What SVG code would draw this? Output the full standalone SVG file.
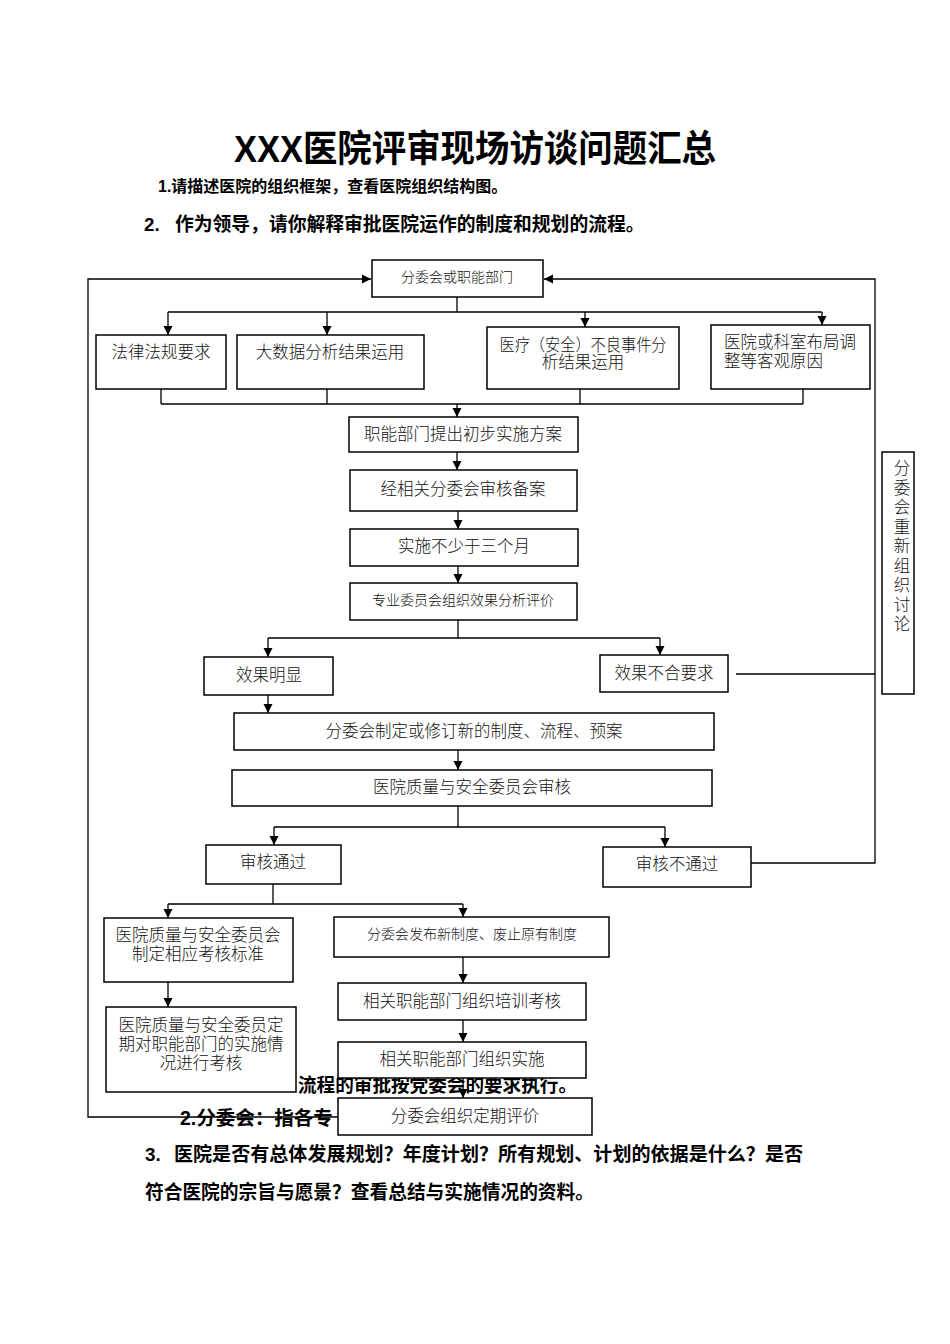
<svg xmlns="http://www.w3.org/2000/svg" width="950" height="1344" viewBox="0 0 950 1344">
<style>
.doc{font-family:"Liberation Sans","Noto Sans CJK SC",sans-serif;font-weight:bold;fill:#000}
.box{fill:#fff;stroke:#000;stroke-width:1.5}
.t{font-family:"Liberation Serif","Noto Sans CJK SC",serif;font-weight:300;font-size:16.5px;fill:#111;text-anchor:middle}
.s{font-size:14px}
.l{text-anchor:start}
.c{fill:none;stroke:#000;stroke-width:1.3}
</style>
<defs>
<marker id="ah" viewBox="0 0 10 10" refX="10" refY="5" markerWidth="9" markerHeight="11" markerUnits="userSpaceOnUse" orient="auto">
<path d="M0,0 L10,5 L0,10 z" fill="#000"/>
</marker>
</defs>
<rect width="950" height="1344" fill="#fff"/>

<g id="doc-text">
<text class="doc" x="475" y="162" font-size="37" text-anchor="middle" textLength="482" lengthAdjust="spacingAndGlyphs">XXX医院评审现场访谈问题汇总</text>
<text class="doc" x="158" y="192" font-size="16">1.请描述医院的组织框架，查看医院组织结构图。</text>
<text class="doc" x="144" y="231" font-size="18.8">2.</text>
<text class="doc" x="175" y="231" font-size="18.8">作为领导，请你解释审批医院运作的制度和规划的流程。</text>
<text class="doc" x="298" y="1092" font-size="19" textLength="279" lengthAdjust="spacingAndGlyphs">流程的审批按党委会的要求执行。</text>
<text class="doc" x="180" y="1125" font-size="19.5">2.分委会：指各专</text>
<text class="doc" x="145" y="1161" font-size="18.8">3.</text>
<text class="doc" x="174" y="1161" font-size="18.8" textLength="629" lengthAdjust="spacingAndGlyphs">医院是否有总体发展规划？年度计划？所有规划、计划的依据是什么？是否</text>
<text class="doc" x="145" y="1199" font-size="18.8" textLength="449" lengthAdjust="spacingAndGlyphs">符合医院的宗旨与愿景？查看总结与实施情况的资料。</text>
</g>

<g id="n-top"><rect class="box" x="372" y="260" width="171" height="37"/><text class="t s" x="457" y="282">分委会或职能部门</text></g>
<g id="n-law"><rect class="box" x="96" y="335" width="130" height="54"/><text class="t" x="161" y="358">法律法规要求</text></g>
<g id="n-data"><rect class="box" x="237" y="335" width="187" height="54"/><text class="t" x="330" y="358">大数据分析结果运用</text></g>
<g id="n-event"><rect class="box" x="487" y="327" width="192" height="62"/><text class="t" x="583" y="351" textLength="167" lengthAdjust="spacingAndGlyphs">医疗（安全）不良事件分</text><text class="t" x="583" y="368">析结果运用</text></g>
<g id="n-layout"><rect class="box" x="711" y="325" width="159" height="64"/><text class="t l" x="724" y="348">医院或科室布局调</text><text class="t l" x="724" y="367">整等客观原因</text></g>
<g id="n-plan"><rect class="box" x="349" y="417" width="229" height="35"/><text class="t" x="463" y="440">职能部门提出初步实施方案</text></g>
<g id="n-review"><rect class="box" x="350" y="470" width="227" height="41"/><text class="t" x="463" y="495">经相关分委会审核备案</text></g>
<g id="n-impl"><rect class="box" x="350" y="529" width="228" height="37"/><text class="t" x="464" y="552">实施不少于三个月</text></g>
<g id="n-eval"><rect class="box" x="350" y="583" width="227" height="37"/><text class="t s" x="463" y="605">专业委员会组织效果分析评价</text></g>
<g id="n-good"><rect class="box" x="204" y="657" width="129" height="38"/><text class="t" x="269" y="681">效果明显</text></g>
<g id="n-bad"><rect class="box" x="600" y="655" width="128" height="37"/><text class="t" x="664" y="679">效果不合要求</text></g>
<g id="n-rediscuss"><rect class="box" x="882" y="452" width="32" height="242"/>
<text class="t" x="902" y="474">分</text><text class="t" x="902" y="493.5">委</text><text class="t" x="902" y="513">会</text><text class="t" x="902" y="532.5">重</text><text class="t" x="902" y="552">新</text><text class="t" x="902" y="571.5">组</text><text class="t" x="902" y="591">织</text><text class="t" x="902" y="610.5">讨</text><text class="t" x="902" y="630">论</text></g>
<g id="n-draft"><rect class="box" x="234" y="713" width="480" height="37"/><text class="t" x="474" y="737">分委会制定或修订新的制度、流程、预案</text></g>
<g id="n-qa"><rect class="box" x="232" y="770" width="480" height="36"/><text class="t" x="472" y="793">医院质量与安全委员会审核</text></g>
<g id="n-pass"><rect class="box" x="206" y="845" width="135" height="39"/><text class="t" x="273" y="868">审核通过</text></g>
<g id="n-fail"><rect class="box" x="603" y="847" width="148" height="40"/><text class="t" x="677" y="870">审核不通过</text></g>
<g id="n-standard"><rect class="box" x="104" y="918" width="189" height="64"/><text class="t" x="198" y="941">医院质量与安全委员会</text><text class="t" x="198" y="960">制定相应考核标准</text></g>
<g id="n-publish"><rect class="box" x="334" y="917" width="275" height="40"/><text class="t s" x="472" y="939">分委会发布新制度、废止原有制度</text></g>
<g id="n-audit"><rect class="box" x="106" y="1007" width="190" height="85"/><text class="t" x="201" y="1031">医院质量与安全委员定</text><text class="t" x="201" y="1050">期对职能部门的实施情</text><text class="t" x="201" y="1069">况进行考核</text></g>
<g id="n-train"><rect class="box" x="338" y="983" width="248" height="37"/><text class="t" x="462" y="1007">相关职能部门组织培训考核</text></g>
<g id="n-do"><rect class="box" x="338" y="1042" width="248" height="36"/><text class="t" x="462" y="1065">相关职能部门组织实施</text></g>
<g id="n-periodic"><rect class="box" x="338" y="1098" width="254" height="37"/><text class="t" x="465" y="1122">分委会组织定期评价</text></g>

<g id="connectors">
<path class="c" d="M338,1117 H88 V279 H371" marker-end="url(#ah)"/>
<path class="c" d="M751,863 H875 V279 H544" marker-end="url(#ah)"/>
<path class="c" d="M736,674 H875"/>
<path class="c" d="M457,297 V312 M168,312 H822"/>
<path class="c" d="M168,312 V335" marker-end="url(#ah)"/>
<path class="c" d="M327,312 V335" marker-end="url(#ah)"/>
<path class="c" d="M585,312 V327" marker-end="url(#ah)"/>
<path class="c" d="M822,312 V325" marker-end="url(#ah)"/>
<path class="c" d="M161,389 V404 M327,389 V404 M580,389 V404 M803,389 V404 M161,404 H803"/>
<path class="c" d="M457,404 V417" marker-end="url(#ah)"/>
<path class="c" d="M457,452 V470" marker-end="url(#ah)"/>
<path class="c" d="M458,511 V529" marker-end="url(#ah)"/>
<path class="c" d="M458,566 V583" marker-end="url(#ah)"/>
<path class="c" d="M458,620 V638 M268,638 H660"/>
<path class="c" d="M268,638 V657" marker-end="url(#ah)"/>
<path class="c" d="M660,638 V655" marker-end="url(#ah)"/>
<path class="c" d="M268,695 V713" marker-end="url(#ah)"/>
<path class="c" d="M458,750 V770" marker-end="url(#ah)"/>
<path class="c" d="M458,806 V827 M274,827 H665"/>
<path class="c" d="M274,827 V845" marker-end="url(#ah)"/>
<path class="c" d="M665,827 V847" marker-end="url(#ah)"/>
<path class="c" d="M273,884 V904 M168,904 H463"/>
<path class="c" d="M168,904 V918" marker-end="url(#ah)"/>
<path class="c" d="M463,904 V917" marker-end="url(#ah)"/>
<path class="c" d="M168,982 V1007" marker-end="url(#ah)"/>
<path class="c" d="M463,957 V983" marker-end="url(#ah)"/>
<path class="c" d="M463,1020 V1042" marker-end="url(#ah)"/>
<path class="c" d="M463,1078 V1098" marker-end="url(#ah)"/>
</g>
</svg>
